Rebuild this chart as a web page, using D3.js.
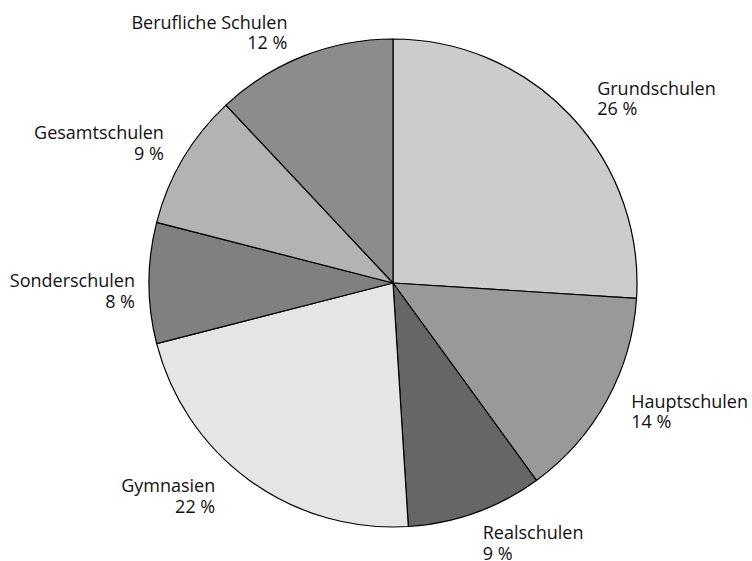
<!DOCTYPE html>
<html>
<head>
<meta charset="utf-8">
<script src="https://cdn.jsdelivr.net/npm/d3@7"></script>
<style>
  html, body { margin: 0; padding: 0; background: #ffffff; }
  svg { display: block; }
  text { font-family: "Open Sans", "Noto Sans", sans-serif; font-size: 18px; fill: #111; }
</style>
</head>
<body>
<svg id="chart" width="752" height="561"></svg>
<script>
// ---- data ----
const categories = ["Grundschulen", "Hauptschulen", "Realschulen", "Gymnasien", "Sonderschulen", "Gesamtschulen", "Berufliche Schulen"];
const values = [26, 14, 9, 22, 8, 9, 12];
const valueLabels = ["26 %", "14 %", "9 %", "22 %", "8 %", "9 %", "12 %"];

// ---- styles / layout ----
const fills = ["#cccccc", "#999999", "#666666", "#e5e5e5", "#808080", "#b3b3b3", "#8c8c8c"];
const labelNudge = [[11, -7], [6, -3], [0, 7], [-22, -5], [7, 4], [-1, -9], [-8, -8]];

const W = 752, H = 561;
const cx = 393, cy = 283, radius = 244, labelRadius = 265, lineGap = 20.5;

const svg = d3.select("#chart");
const g = svg.append("g").attr("transform", `translate(${cx},${cy})`);

const rows = categories.map((c, i) => ({ name: c, value: values[i], pct: valueLabels[i], i }));

const pie = d3.pie().value(d => d.value).sort(null);
const arcs = pie(rows);
const arc = d3.arc().innerRadius(0).outerRadius(radius);
const labelArc = d3.arc().innerRadius(labelRadius).outerRadius(labelRadius);

g.selectAll("path.slice")
  .data(arcs)
  .enter().append("path")
  .attr("class", "slice")
  .attr("d", arc)
  .attr("fill", d => fills[d.data.i])
  .attr("stroke", "#000")
  .attr("stroke-width", 1.2)
  .attr("stroke-linejoin", "round");

const labels = g.selectAll("text.lbl")
  .data(arcs)
  .enter().append("text")
  .attr("class", "lbl")
  .each(function(d) {
    const [px, py] = labelArc.centroid(d);
    const mid = (d.startAngle + d.endAngle) / 2;
    const right = mid < Math.PI;
    const [nx, ny] = labelNudge[d.data.i];
    const x = px + nx, y = py + ny;
    const t = d3.select(this).attr("text-anchor", right ? "start" : "end");
    t.append("tspan").attr("x", x).attr("y", y).text(d.data.name);
    t.append("tspan").attr("x", x).attr("y", y + lineGap).text(d.data.pct);
  });
</script>
</body>
</html>
